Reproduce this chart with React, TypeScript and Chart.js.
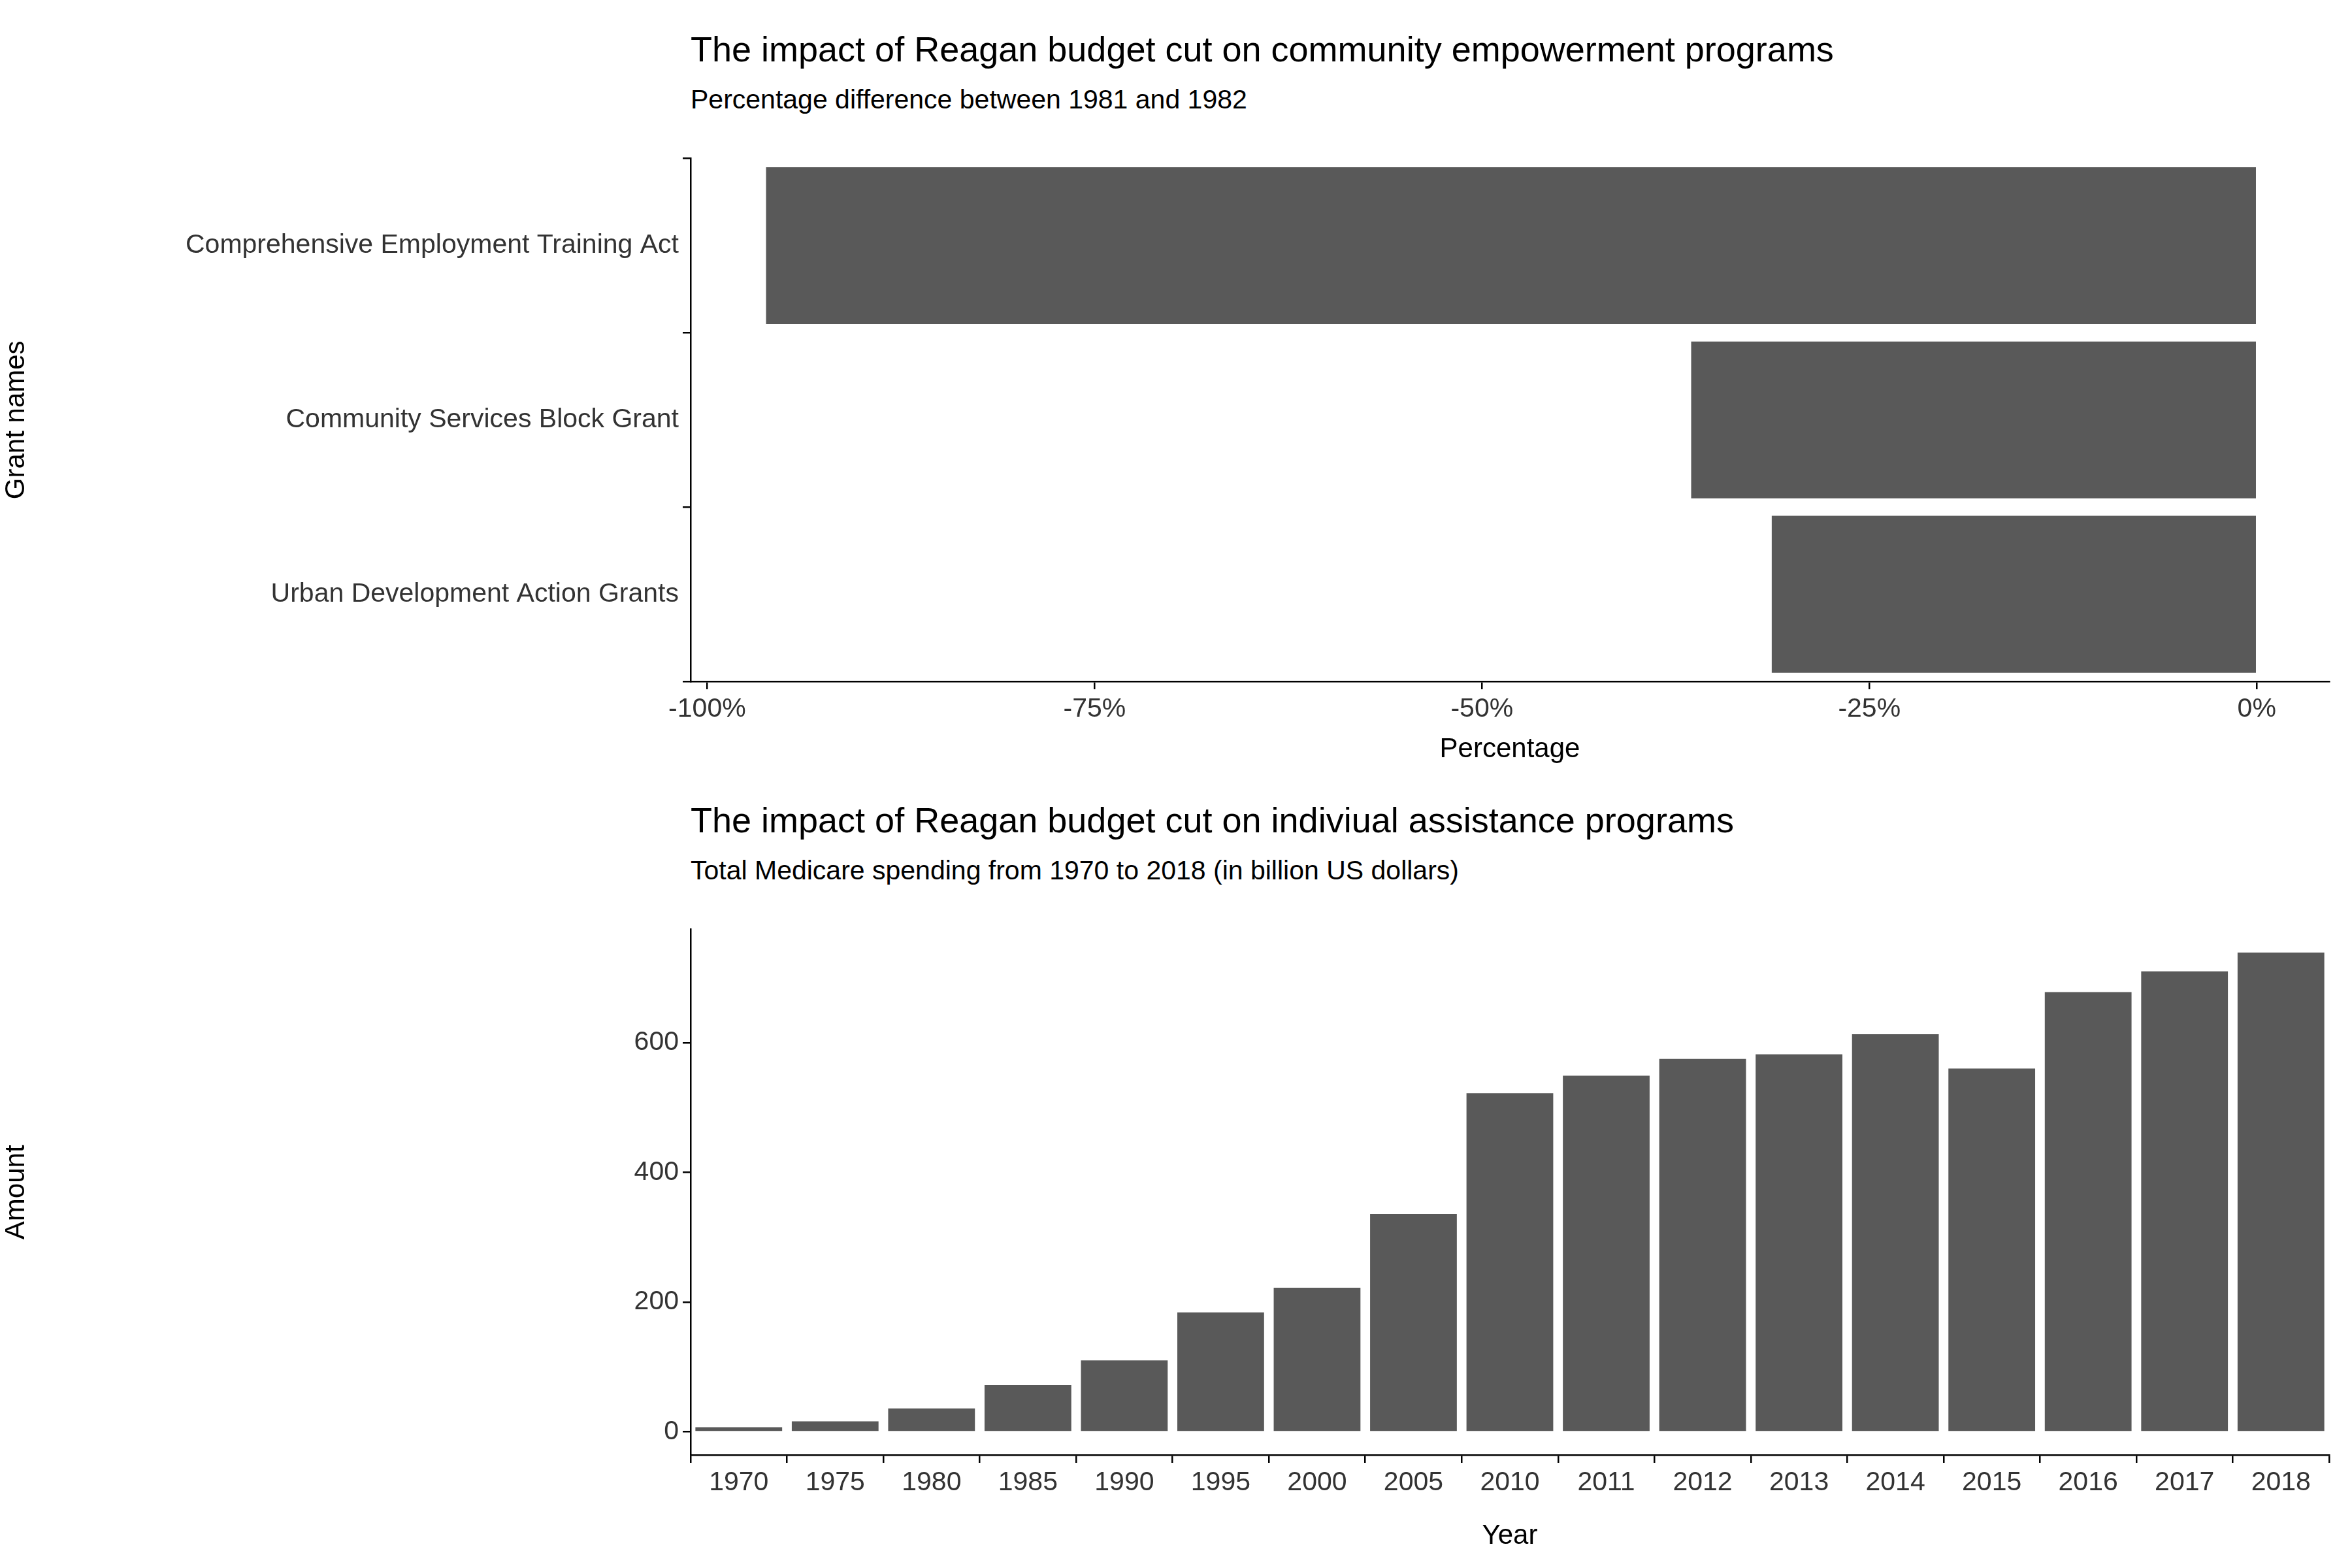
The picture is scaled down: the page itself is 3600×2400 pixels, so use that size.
import React, { useEffect, useRef } from "react";
import { Chart, registerables } from "chart.js";
Chart.register(...registerables);

const grantNames = ["Comprehensive Employment Training Act", "Community Services Block Grant", "Urban Development Action Grants"];
const grantPct = [-96.2, -36.5, -31.3];
const pctTicks = [-100, -75, -50, -25, 0];

const years = ["1970","1975","1980","1985","1990","1995","2000","2005","2010","2011","2012","2013","2014","2015","2016","2017","2018"];
const amounts = [7, 16, 36, 72, 110, 184, 222, 336, 522, 549, 575, 582, 613, 560, 678, 710, 739];
const amountTicks = [0, 200, 400, 600];

const FONT = "'Liberation Sans', Arial, sans-serif";
const BAR = "#595959";

function axisCommon(title: string, ticksColor = "#333") {
  return {
    grid: { display: true, drawOnChartArea: false, tickLength: 12, color: "#000", lineWidth: 2.5 },
    border: { display: true, color: "#000", width: 2.5 },
    ticks: { color: ticksColor, font: { family: FONT, size: 41 }, padding: 6 },
    title: { display: true, text: title, color: "#000", font: { family: FONT, size: 42 }, padding: { top: 4, bottom: 0 } },
  };
}

export default function App() {
  const c1 = useRef<HTMLCanvasElement>(null);
  const c2 = useRef<HTMLCanvasElement>(null);
  useEffect(() => {
    const ch1 = new Chart(c1.current!, {
      type: "bar",
      data: { labels: grantNames, datasets: [{ data: grantPct, backgroundColor: BAR, barPercentage: 1, categoryPercentage: 0.9 }] },
      options: {
        indexAxis: "y", animation: false, responsive: false, maintainAspectRatio: false,
        layout: { padding: { left: 0, right: 35, top: 0, bottom: 0 } },
        plugins: { legend: { display: false }, tooltip: { enabled: false } },
        scales: {
          x: {
            ...axisCommon("Percentage"), min: -101.07, max: 4.67,
            afterBuildTicks: (s: any) => { s.ticks = pctTicks.map((v) => ({ value: v })); },
            afterFit: (s: any) => { s.height = 130; },
            ticks: { ...axisCommon("").ticks, callback: (v: any) => `${v}%` },
          },
          y: {
            ...axisCommon("Grant names"),
            afterFit: (s: any) => { s.width = 1057; },
            title: { ...axisCommon("Grant names").title, padding: { top: 0, bottom: 0 } },
          },
        },
      } as any,
    });
    const ch2 = new Chart(c2.current!, {
      type: "bar",
      data: { labels: years, datasets: [{ data: amounts, backgroundColor: BAR, barPercentage: 1, categoryPercentage: 0.9 }] },
      options: {
        animation: false, responsive: false, maintainAspectRatio: false,
        layout: { padding: { left: 0, right: 35, top: 0, bottom: 0 } },
        plugins: { legend: { display: false }, tooltip: { enabled: false } },
        scales: {
          x: { ...axisCommon("Year"), afterFit: (s: any) => { s.height = 150; } },
          y: {
            ...axisCommon("Amount"), min: -35.8, max: 774.6,
            afterBuildTicks: (s: any) => { s.ticks = amountTicks.map((v) => ({ value: v })); },
            afterFit: (s: any) => { s.width = 1057; },
            title: { ...axisCommon("Amount").title, padding: { top: 0, bottom: 0 } },
          },
        },
      } as any,
    });
    return () => { ch1.destroy(); ch2.destroy(); };
  }, []);
  const txt = (top: number, size: number, s: string) => (
    <div style={{ position: "absolute", left: 1057, top, fontFamily: FONT, fontSize: size, color: "#000", whiteSpace: "nowrap", lineHeight: 1 }}>{s}</div>
  );
  return (
    <div style={{ position: "absolute", left: 0, top: 0, width: 3600, height: 2400, background: "#fff" }}>
      {txt(48, 54, "The impact of Reagan budget cut on community empowerment programs")}
      {txt(132, 41, "Percentage difference between 1981 and 1982")}
      <canvas ref={c1} width={3600} height={961} style={{ position: "absolute", left: 0, top: 212, width: 3600, height: 961 }} />
      {txt(1228, 54, "The impact of Reagan budget cut on indiviual assistance programs")}
      {txt(1312, 41, "Total Medicare spending from 1970 to 2018 (in billion US dollars)")}
      <canvas ref={c2} width={3600} height={985} style={{ position: "absolute", left: 0, top: 1392, width: 3600, height: 985 }} />
    </div>
  );
}
